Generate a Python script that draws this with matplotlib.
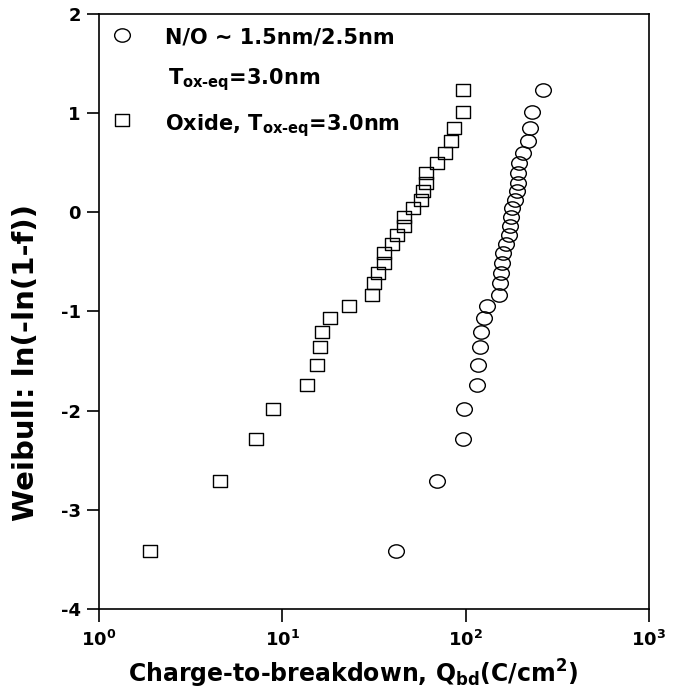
import numpy as np
import matplotlib
matplotlib.use('Agg')
import matplotlib.pyplot as plt
from matplotlib.path import Path
from matplotlib.transforms import Affine2D

plt.rcParams['font.family'] = ['DejaVu Sans']
plt.rcParams['font.weight'] = 'bold'
plt.rcParams['axes.labelweight'] = 'bold'
plt.rcParams['axes.unicode_minus'] = False
plt.rcParams['mathtext.fontset'] = 'custom'
plt.rcParams['mathtext.rm'] = 'DejaVu Sans:bold'
plt.rcParams['mathtext.it'] = 'DejaVu Sans:bold'
plt.rcParams['mathtext.bf'] = 'DejaVu Sans:bold'

# Weibull plotting positions (same for both sets, 30 devices each)
weibull_y = [-3.42, -2.71, -2.29, -1.98, -1.74, -1.54, -1.36, -1.21, -1.07, -0.94,
             -0.83, -0.71, -0.61, -0.51, -0.41, -0.32, -0.23, -0.14, -0.05, 0.04,
             0.12, 0.21, 0.30, 0.40, 0.50, 0.60, 0.72, 0.85, 1.01, 1.23]

# N/O stack, Tox-eq = 3.0nm  (Qbd in C/cm2)
qbd_no = [41.5, 69.5, 97.0, 97.5, 116, 117, 120, 122, 126, 131,
          153, 155, 156, 158, 160, 166, 172, 174, 177, 180,
          186, 192, 194, 194, 195, 206, 220, 224, 231, 264]

# pure oxide, Tox-eq = 3.0nm
qbd_ox = [1.9, 4.56, 7.16, 8.9, 13.6, 15.5, 16.0, 16.5, 18.2, 23.0,
          30.7, 31.5, 33.2, 35.8, 35.8, 39.8, 42.2, 45.9, 46.3, 51.4,
          57.1, 58.3, 60.8, 61.0, 69.5, 77.4, 83.2, 86.7, 97.0, 97.0]

xticks = [1, 10, 100, 1000]
xticklabels = [r'10$^{0}$', r'10$^{1}$', r'10$^{2}$', r'10$^{3}$']
yticks = [-4, -3, -2, -1, 0, 1, 2]

# scanned figure is a bit wider than tall -> squashed markers
ell = Path.unit_circle().transformed(Affine2D().scale(1.0, 0.85))
sq = Path([(-1, -0.87), (1, -0.87), (1, 0.87), (-1, 0.87), (-1, -0.87)],
          [Path.MOVETO, Path.LINETO, Path.LINETO, Path.LINETO, Path.CLOSEPOLY])

fig = plt.figure(figsize=(6.78, 6.96), dpi=100)
ax = fig.add_axes([0.146, 0.125, 0.811, 0.855])

ax.plot(qbd_no, weibull_y, linestyle='none', marker=ell, ms=11.3,
        mfc='none', mec='black', mew=1.0)
ax.plot(qbd_ox, weibull_y, linestyle='none', marker=sq, ms=10.5,
        mfc='none', mec='black', mew=1.0)

ax.set_xscale('log')
ax.set_xlim(1, 1000)
ax.set_ylim(-4, 2)
ax.set_xticks(xticks)
ax.set_xticklabels(xticklabels)
ax.xaxis.set_minor_locator(matplotlib.ticker.NullLocator())
ax.set_yticks(yticks)
ax.tick_params(direction='out', length=9, width=1.2, labelsize=13, pad=4)
ax.tick_params(axis='x', pad=6)
for s in ax.spines.values():
    s.set_linewidth(1.2)

ax.set_xlabel(r'Charge-to-breakdown, Q$_{bd}$(C/cm$^{2}$)', fontsize=17)
ax.xaxis.set_label_coords(0.463, -0.082)
ax.set_ylabel('Weibull: ln(-ln(1-f))', fontsize=21)
ax.yaxis.set_label_coords(-0.107, 0.415)

# legend drawn by hand
ax.plot([0.041], [0.965], transform=ax.transAxes, marker=ell, ms=11.3,
        mfc='none', mec='black', mew=1.0, clip_on=False)
ax.plot([0.042], [0.822], transform=ax.transAxes, marker=sq, ms=10.5,
        mfc='none', mec='black', mew=1.0, clip_on=False)
ax.text(0.120, 0.951, 'N/O ~ 1.5nm/2.5nm', transform=ax.transAxes,
        fontsize=15, va='baseline')
ax.text(0.125, 0.881, r'T$_{ox\text{-}eq}$=3.0nm', transform=ax.transAxes,
        fontsize=15, va='baseline')
ax.text(0.120, 0.805, r'Oxide, T$_{ox\text{-}eq}$=3.0nm', transform=ax.transAxes,
        fontsize=15, va='baseline')

fig.savefig('out.png', dpi=100)
